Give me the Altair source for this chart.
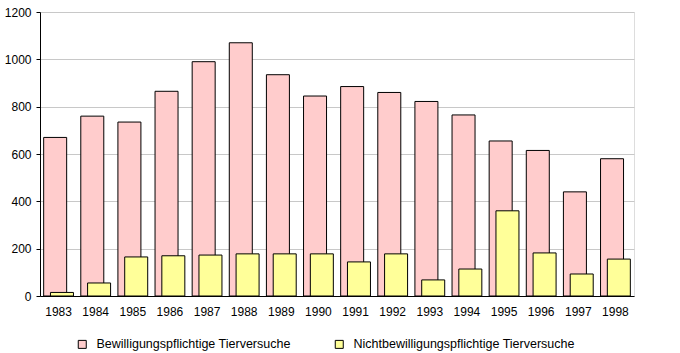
import altair as alt
import pandas as pd

years = [str(y) for y in range(1983, 1999)]
bewilligt = [670, 760, 735, 865, 990, 1070, 935, 845, 885, 860, 822, 765, 655, 615, 440, 580]
nicht = [15, 55, 165, 170, 173, 178, 178, 178, 144, 178, 68, 114, 360, 182, 93, 156]
series = ["Bewilligungspflichtige Tierversuche", "Nichtbewilligungspflichtige Tierversuche"]
colors = ["#FFCCCC", "#FFFF99"]

rows = []
for y, a, b in zip(years, bewilligt, nicht):
    rows.append({"Jahr": y, "Wert": a, "Serie": series[0]})
    rows.append({"Jahr": y, "Wert": b, "Serie": series[1]})
df = pd.DataFrame(rows)

FONT = "Liberation Sans"

x = alt.X("Jahr:N", sort=years, title=None,
          scale=alt.Scale(paddingInner=0, paddingOuter=0),
          axis=alt.Axis(labelAngle=0, ticks=False, labelPadding=10, domainColor="black",
                        domainWidth=1, labelFont=FONT, labelFontSize=12, labelColor="black"))
y = alt.Y("Wert:Q", title=None,
          scale=alt.Scale(domain=[0, 1200], nice=False),
          axis=alt.Axis(values=[0, 200, 400, 600, 800, 1000, 1200], format="d", tickSize=4,
                        tickColor="black", labelPadding=5, domainColor="black", gridColor="#C8C8C8",
                        labelFont=FONT, labelFontSize=12, labelColor="black"))
color = alt.Color("Serie:N", title=None,
                  scale=alt.Scale(domain=series, range=colors),
                  legend=alt.Legend(orient="none", legendX=36, legendY=326, direction="horizontal",
                                    columns=2, columnPadding=42, symbolType="square", symbolSize=64,
                                    symbolStrokeColor="black", symbolStrokeWidth=1, symbolOpacity=1,
                                    labelFont=FONT, labelFontSize=12.5, labelColor="black",
                                    labelOffset=8, labelLimit=400))

base = alt.Chart(df).encode(x=x, y=y, color=color)
pink = base.transform_filter(alt.datum.Serie == series[0]).mark_bar(
    width=23, xOffset=-3.4, stroke="black", strokeWidth=1, opacity=1)
yellow = base.transform_filter(alt.datum.Serie == series[1]).mark_bar(
    width=23, xOffset=3.4, stroke="black", strokeWidth=1, opacity=1)

chart = alt.layer(pink, yellow).properties(
    width=594, height=284,
    autosize=alt.AutoSizeParams(type="none"),
    padding={"left": 40, "top": 12, "right": 46, "bottom": 57},
).configure_view(stroke=None).configure(background="white")

chart.save("out.html", embed_options={"renderer": "svg", "actions": False})
